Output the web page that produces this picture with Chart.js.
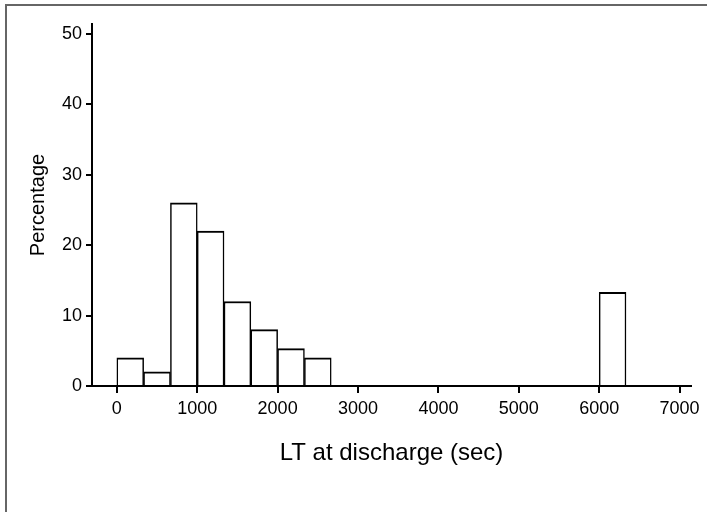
<!DOCTYPE html>
<html>
<head>
<meta charset="utf-8">
<script src="https://cdn.jsdelivr.net/npm/chart.js@4"></script>
<style>
  html, body { margin: 0; padding: 0; background: #fff; }
  #frame {
    position: absolute; left: 5px; top: 4px; width: 700px; height: 520px;
    border-left: 2px solid #666; border-top: 2px solid #666; border-right: 1px solid #ddd;
  }
  #wrap { position: absolute; left: 0; top: 0; width: 707px; height: 512px; }
</style>
</head>
<body>
<div id="frame"></div>
<div id="wrap"><canvas id="graph" width="707" height="512"></canvas></div>
<script>
// histogram bins (sec) and their share of cases (%)
var binWidth = 1000 / 3;
var binStart = [0, 333.3, 666.7, 1000, 1333.3, 1666.7, 2000, 2333.3, 6000];
var percent = [4, 2, 26, 22, 12, 8, 5.3, 4, 13.3];
var xTicks = [0, 1000, 2000, 3000, 4000, 5000, 6000, 7000];
var yTicks = [0, 10, 20, 30, 40, 50];

var points = binStart.map(function (s, i) {
  return { x: s + binWidth / 2, y: percent[i] };
});

var font = 'Arial, "Liberation Sans", sans-serif';

const chart = new Chart(document.querySelector('#graph'), {
  type: 'bar',
  data: {
    datasets: [{
      data: points,
      backgroundColor: '#fff',
      borderColor: '#000',
      borderWidth: { top: 2, left: 1.5, right: 1.5, bottom: 0 },
      borderSkipped: false,
      barPercentage: 1,
      categoryPercentage: 1
    }]
  },
  options: {
    responsive: false,
    animation: false,
    layout: { padding: { top: 24, right: 16, left: 0, bottom: 0 } },
    plugins: { legend: { display: false }, tooltip: { enabled: false } },
    scales: {
      x: {
        type: 'linear',
        offset: false,
        min: -309,
        max: 7142,
        afterFit: function (s) { s.height = 126; },
        afterBuildTicks: function (s) {
          s.ticks = xTicks.map(function (v) { return { value: v }; });
        },
        ticks: {
          color: '#000', font: { family: font, size: 18 }, padding: 5, maxRotation: 0,
          callback: function (v) { return String(v); }
        },
        grid: { offset: false, drawOnChartArea: false, drawTicks: true, tickLength: 7, color: '#000', lineWidth: 2 },
        border: { display: true, color: '#000', width: 2 },
        title: {
          display: true, text: 'LT at discharge (sec)', color: '#000',
          font: { family: font, size: 24 }, padding: { top: 0, bottom: 44 }
        }
      },
      y: {
        min: 0,
        max: 51.4,
        afterFit: function (s) { s.width = 92; },
        afterBuildTicks: function (s) {
          s.ticks = yTicks.map(function (v) { return { value: v }; });
        },
        ticks: { color: '#000', font: { family: font, size: 18 }, padding: 4 },
        grid: { drawOnChartArea: false, drawTicks: true, tickLength: 6, color: '#000', lineWidth: 2 },
        border: { display: true, color: '#000', width: 2 },
        title: {
          display: true, text: 'Percentage', color: '#000',
          font: { family: font, size: 20 }, padding: { top: 26, bottom: 0 }
        }
      }
    }
  }
});
</script>
</body>
</html>
